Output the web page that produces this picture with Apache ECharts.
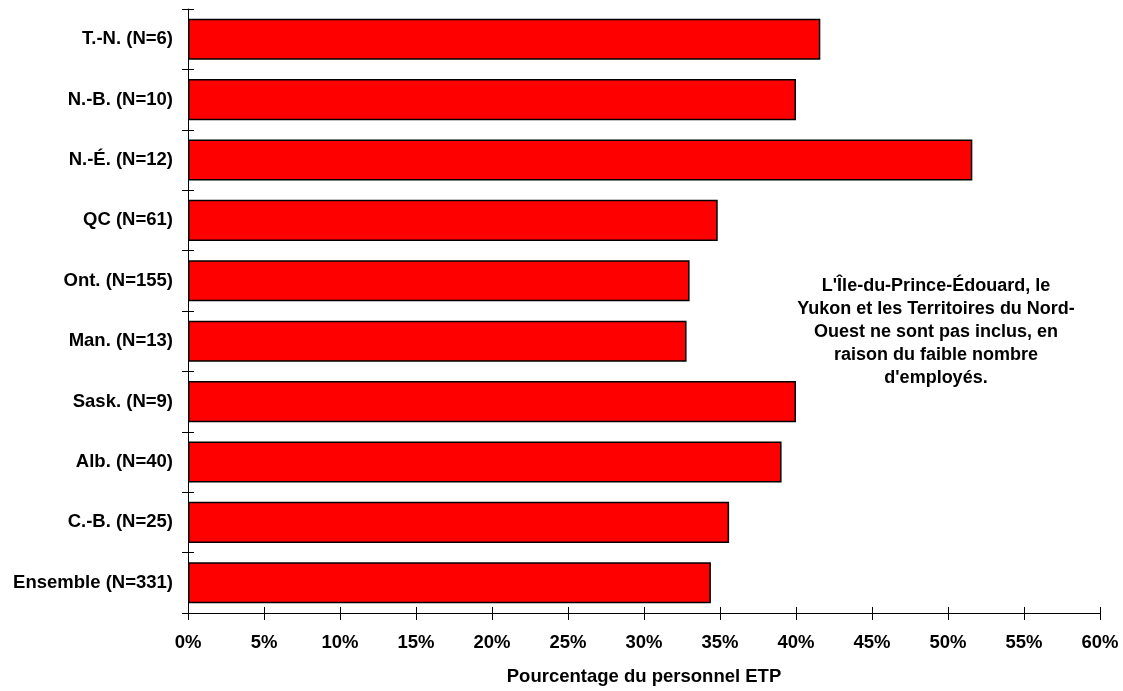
<!DOCTYPE html>
<html>
<head>
<meta charset="utf-8">
<script src="https://cdn.jsdelivr.net/npm/echarts@6/dist/echarts.min.js"></script>
<style>html,body{margin:0;padding:0;background:#fff}#c{width:1123px;height:691px}</style>
</head>
<body>
<div id="c"></div>
<script>
const categories = ['T.-N. (N=6)', 'N.-B. (N=10)', 'N.-É. (N=12)', 'QC (N=61)', 'Ont. (N=155)', 'Man. (N=13)', 'Sask. (N=9)', 'Alb. (N=40)', 'C.-B. (N=25)', 'Ensemble (N=331)'];
const values = [41.6, 40.0, 51.6, 34.85, 33.0, 32.8, 40.0, 39.05, 35.6, 34.4];
const xTicks = {min: 0, max: 60, interval: 5};
const axisTitle = 'Pourcentage du personnel ETP';
const note = "L'Île-du-Prince-Édouard, le\nYukon et les Territoires du Nord-\nOuest ne sont pas inclus, en\nraison du faible nombre\nd'employés.";

const FONT = '"Liberation Sans", Arial, sans-serif';
const FS = 18.5;
const chart = echarts.init(document.getElementById('c'), null, {renderer: 'canvas'});
chart.setOption({
  animation: false,
  backgroundColor: '#fff',
  grid: {left: 188, right: 23, top: 9, bottom: 76, containLabel: false},
  xAxis: [{
    type: 'value', min: xTicks.min, max: xTicks.max, interval: xTicks.interval, position: 'bottom',
    axisLine: {show: true, lineStyle: {color: '#000', width: 1}},
    axisTick: {show: true, length: 7, lineStyle: {color: '#000'}},
    splitLine: {show: false},
    axisLabel: {formatter: '{value}%', fontFamily: FONT, fontSize: FS, fontWeight: 'bold', color: '#000', margin: 20},
    name: axisTitle, nameLocation: 'middle', nameGap: 54,
    nameTextStyle: {fontFamily: FONT, fontSize: FS, fontWeight: 'bold', color: '#000'}
  }, {
    type: 'value', min: xTicks.min, max: xTicks.max, interval: xTicks.interval, position: 'bottom',
    axisLine: {show: false},
    axisTick: {show: true, inside: true, length: 6, lineStyle: {color: '#000'}},
    splitLine: {show: false}, axisLabel: {show: false}
  }],
  yAxis: [{
    type: 'category', data: categories, inverse: true, position: 'left',
    axisLine: {show: true, lineStyle: {color: '#000', width: 1}},
    axisTick: {show: true, length: 6, lineStyle: {color: '#000'}},
    axisLabel: {fontFamily: FONT, fontSize: FS, fontWeight: 'bold', color: '#000', margin: 15}
  }, {
    type: 'category', data: categories, inverse: true, position: 'left',
    axisLine: {show: false},
    axisTick: {show: true, inside: true, length: 6, lineStyle: {color: '#000'}},
    axisLabel: {show: false}
  }],
  series: [{
    type: 'bar', data: values, xAxisIndex: 0, yAxisIndex: 0,
    barCategoryGap: '32%',
    itemStyle: {color: '#FF0000', borderColor: '#000', borderWidth: 1.5}
  }],
  graphic: [{
    type: 'text', x: 936, y: 275,
    style: {text: note, fontFamily: FONT, fontSize: 18, fontWeight: 'bold', fill: '#000', align: 'center', verticalAlign: 'top', lineHeight: 23},
    z: 10
  }]
});
</script>
</body>
</html>
